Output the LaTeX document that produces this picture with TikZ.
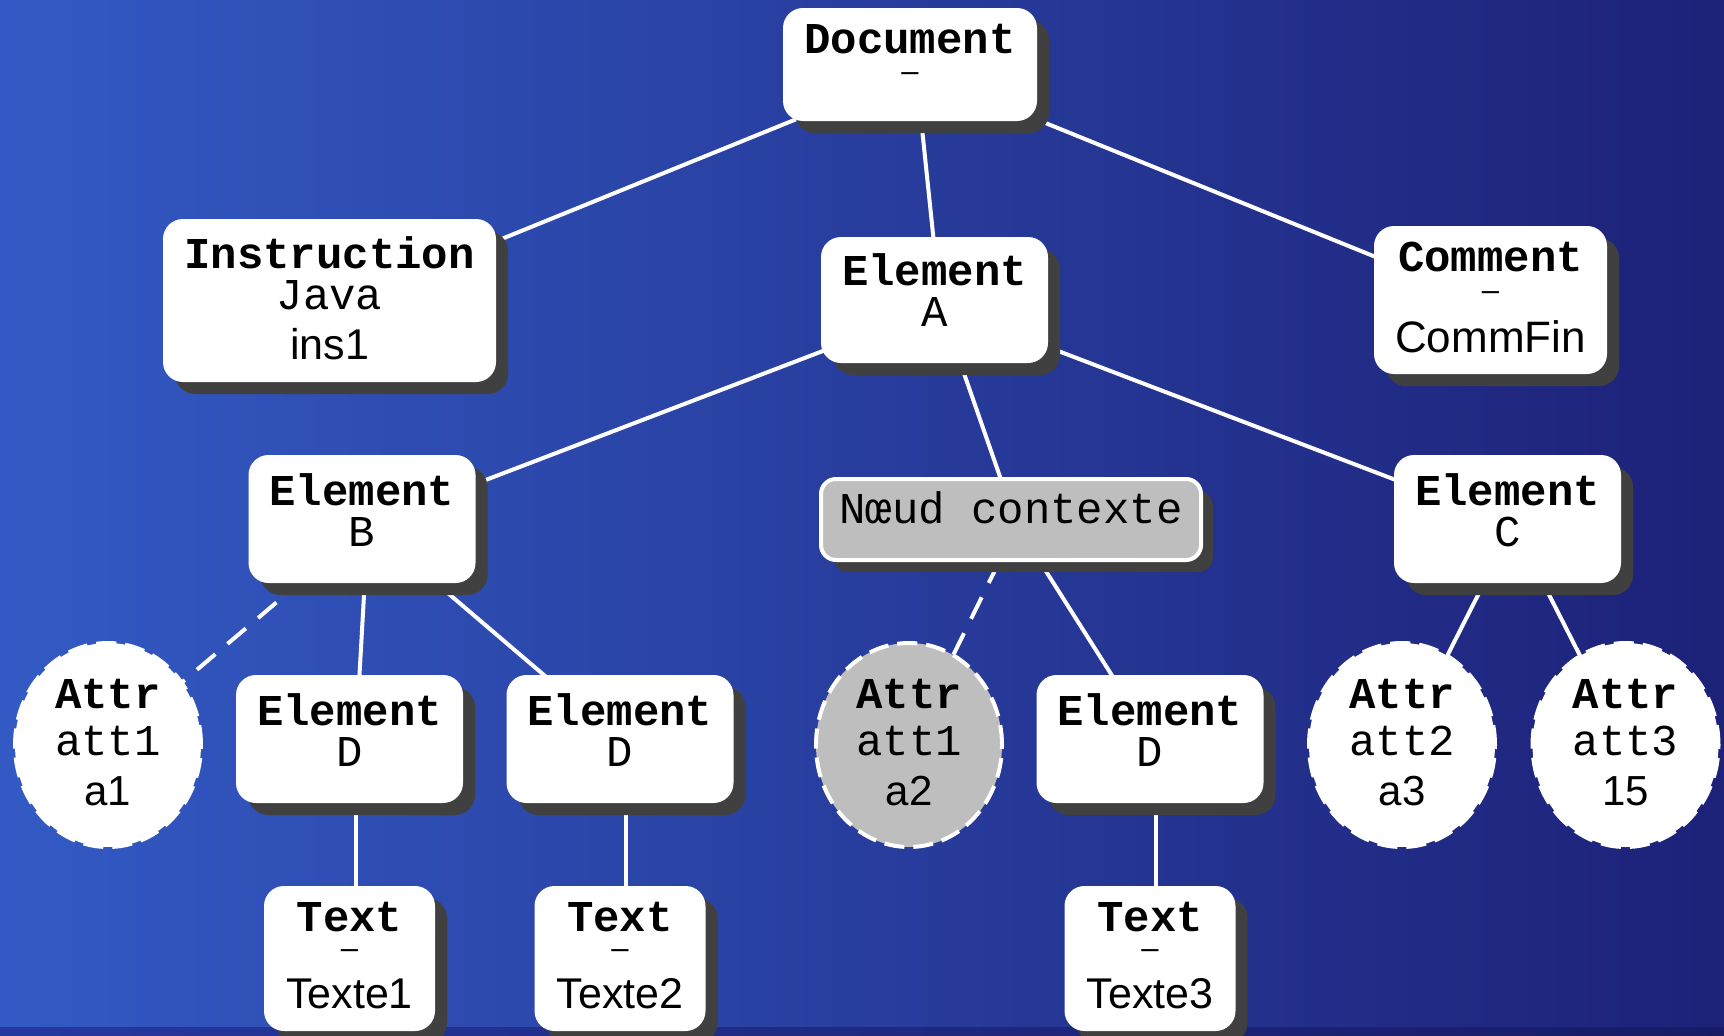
\documentclass[tikz,border=0pt]{standalone}
\usepackage{fontspec}
\newfontfamily\courfont{Liberation Mono}
\newfontfamily\arialfont{Liberation Sans}
\usetikzlibrary{shapes.geometric,shadows}

\definecolor{bgL}{RGB}{51,90,196}
\definecolor{bgR}{RGB}{29,33,120}
\definecolor{stripL}{RGB}{38,56,160}
\definecolor{stripR}{RGB}{24,27,100}
\definecolor{shadowgray}{RGB}{64,64,64}
\definecolor{ctxgray}{RGB}{190,190,190}

\pgfdeclarelayer{bg}
\pgfdeclarelayer{edges}
\pgfsetlayers{bg,edges,main}

\tikzset{
  box/.style={rectangle, rounded corners=20pt, fill=white, draw=none,
    inner sep=0pt,
    drop shadow={shadow xshift=12pt, shadow yshift=-12pt,
      fill=shadowgray, opacity=1}},
  elem/.style={box, minimum width=227pt, minimum height=128pt},
  txtbox/.style={box, minimum width=171pt, minimum height=145pt},
  ctxbox/.style={box, rounded corners=15pt, fill=ctxgray, draw=white,
    line width=4pt, minimum width=380pt, minimum height=81pt},
  attr/.style={ellipse, fill=white, draw=white, line width=4pt,
    dash pattern=on 20pt off 9pt, minimum width=186pt,
    minimum height=204pt, inner sep=0pt},
  kind/.style={font=\courfont\bfseries\fontsize{44}{44}\selectfont,
    inner sep=0pt, anchor=base},
  nm/.style={font=\courfont\fontsize{44}{44}\selectfont,
    inner sep=0pt, anchor=base},
  val/.style={font=\arialfont\fontsize{43}{43}\selectfont,
    inner sep=0pt, anchor=base},
  aval/.style={val, font=\arialfont\fontsize{42}{42}\selectfont},
  nomark/.style={font=\arialfont\fontsize{31}{31}\selectfont,
    inner sep=0pt, anchor=base},
  link/.style={draw=white, line width=4pt},
  dlink/.style={link, dash pattern=on 24pt off 16pt},
}

% centre of a box together with its shadow
\newcommand{\shc}[1]{([shift={(6,6)}]#1.center)}

\begin{document}
\begin{tikzpicture}[x=1pt, y=-1pt]
\useasboundingbox (0,0) rectangle (1724,1036);

% background
\begin{pgfonlayer}{bg}
  \shade[left color=bgL, right color=bgR] (0,0) rectangle (1724,1036);
  \shade[left color=stripL, right color=stripR] (0,1027) rectangle (1724,1036);
\end{pgfonlayer}

% Document
\node[box, minimum width=254pt, minimum height=113pt] (doc) at (910,64.5) {};
\node[kind] (doc-k) at ([yshift=-46pt]doc.north) {Document};
\node[nomark] (doc-n) at ([yshift=-73.5pt]doc.north) {–};

% Instruction
\node[box, minimum width=333pt, minimum height=163pt] (ins) at (329.5,300.5) {};
\node[kind] (ins-k) at ([yshift=-50pt]ins.north) {Instruction};
\node[nm]   (ins-n) at ([yshift=-91pt]ins.north) {Java};
\node[val]  (ins-v) at ([yshift=-141pt]ins.north) {ins1};

% Element A
\node[box, minimum width=227pt, minimum height=126pt] (ea) at (934.5,300) {};
\node[kind] (ea-k) at ([yshift=-49pt]ea.north) {Element};
\node[nm]   (ea-n) at ([yshift=-90pt]ea.north) {A};

% Comment
\node[box, minimum width=233pt, minimum height=148pt] (com) at (1490.5,300) {};
\node[kind]   (com-k) at ([yshift=-46pt]com.north) {Comment};
\node[nomark] (com-n) at ([yshift=-74.5pt]com.north) {–};
\node[val, font=\arialfont\fontsize{44}{44}\selectfont]
              (com-v) at ([yshift=-127pt]com.north) {CommFin};

% Element B
\node[elem] (eb) at (362,519) {};
\node[kind] (eb-k) at ([yshift=-51pt]eb.north) {Element};
\node[nm]   (eb-n) at ([yshift=-92pt]eb.north) {B};

% context node
\node[ctxbox] (ctx) at (1011,519.5) {};
\node[nm] (ctx-n) at ([yshift=-46pt]ctx.north) {Nœud contexte};

% Element C
\node[elem] (ec) at (1507.5,519) {};
\node[kind] (ec-k) at ([yshift=-51pt]ec.north) {Element};
\node[nm]   (ec-n) at ([yshift=-92pt]ec.north) {C};

% Elements D
\node[elem] (d1) at (349.5,739) {};
\node[kind] (d1-k) at ([yshift=-51pt]d1.north) {Element};
\node[nm]   (d1-n) at ([yshift=-92pt]d1.north) {D};
\node[elem] (d2) at (620,739) {};
\node[kind] (d2-k) at ([yshift=-51pt]d2.north) {Element};
\node[nm]   (d2-n) at ([yshift=-92pt]d2.north) {D};
\node[elem] (d3) at (1150,739) {};
\node[kind] (d3-k) at ([yshift=-51pt]d3.north) {Element};
\node[nm]   (d3-n) at ([yshift=-92pt]d3.north) {D};

% Text nodes
\node[txtbox] (t1) at (349.5,958.5) {};
\node[kind]   (t1-k) at ([yshift=-46pt]t1.north) {Text};
\node[nomark] (t1-n) at ([yshift=-72.5pt]t1.north) {–};
\node[val]    (t1-v) at ([yshift=-123pt]t1.north) {Texte1};
\node[txtbox] (t2) at (620,958.5) {};
\node[kind]   (t2-k) at ([yshift=-46pt]t2.north) {Text};
\node[nomark] (t2-n) at ([yshift=-72.5pt]t2.north) {–};
\node[val]    (t2-v) at ([yshift=-123pt]t2.north) {Texte2};
\node[txtbox] (t3) at (1150,958.5) {};
\node[kind]   (t3-k) at ([yshift=-46pt]t3.north) {Text};
\node[nomark] (t3-n) at ([yshift=-72.5pt]t3.north) {–};
\node[val]    (t3-v) at ([yshift=-123pt]t3.north) {Texte3};

% Attributes
\node[attr] (a1) at (108,745) {};
\node[kind] (a1-k) at ([yshift=37pt]a1.center) {Attr};
\node[nm]   (a1-n) at ([yshift=-10pt]a1.center) {att1};
\node[aval] (a1-v) at ([yshift=-60pt]a1.center) {a1};

\node[attr, fill=ctxgray] (a2) at (909,745) {};
\node[kind] (a2-k) at ([yshift=37pt]a2.center) {Attr};
\node[nm]   (a2-n) at ([yshift=-10pt]a2.center) {att1};
\node[aval] (a2-v) at ([yshift=-60pt]a2.center) {a2};

\node[attr] (a3) at (1402,745) {};
\node[kind] (a3-k) at ([yshift=37pt]a3.center) {Attr};
\node[nm]   (a3-n) at ([yshift=-10pt]a3.center) {att2};
\node[aval] (a3-v) at ([yshift=-60pt]a3.center) {a3};

\node[attr] (a4) at (1625.5,745) {};
\node[kind] (a4-k) at ([yshift=37pt]a4.center) {Attr};
\node[nm]   (a4-n) at ([yshift=-10pt]a4.center) {att3};
\node[aval] (a4-v) at ([yshift=-60pt]a4.center) {15};

% connectors, behind the boxes and their shadows
\begin{pgfonlayer}{edges}
  \draw[link] \shc{doc} -- \shc{ins};
  \draw[link] \shc{doc} -- \shc{ea};
  \draw[link] \shc{doc} -- \shc{com};
  \draw[link] \shc{ea} -- \shc{eb};
  \draw[link] \shc{ea} -- \shc{ctx};
  \draw[link] \shc{ea} -- \shc{ec};
  \draw[dlink] \shc{eb} -- (a1.center);
  \draw[link] \shc{eb} -- \shc{d1};
  \draw[link] \shc{eb} -- \shc{d2};
  \draw[dlink] \shc{ctx} -- (a2.center);
  \draw[link] \shc{ctx} -- \shc{d3};
  \draw[link] \shc{ec} -- (a3.center);
  \draw[link] \shc{ec} -- (a4.center);
  \draw[link] \shc{d1} -- \shc{t1};
  \draw[link] \shc{d2} -- \shc{t2};
  \draw[link] \shc{d3} -- \shc{t3};
\end{pgfonlayer}
\end{tikzpicture}
\end{document}
